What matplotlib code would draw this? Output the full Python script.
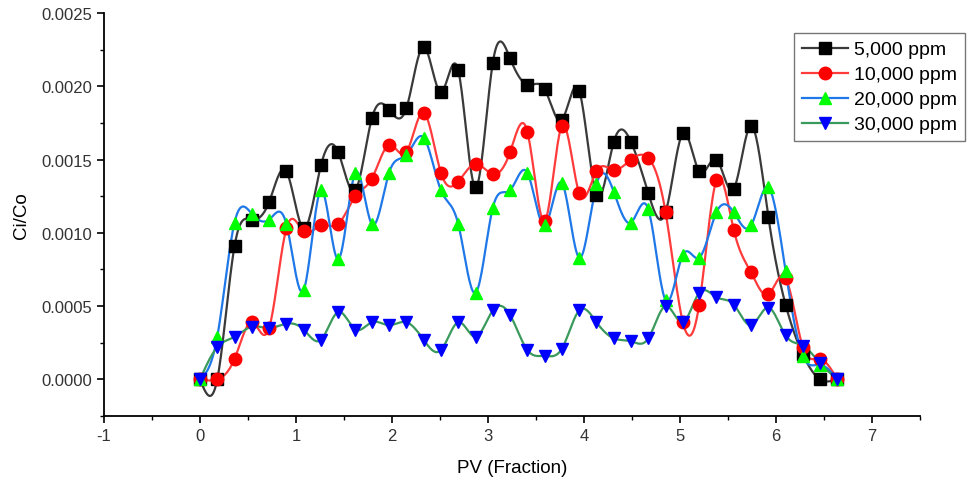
import numpy as np
import matplotlib
matplotlib.use("Agg")
from matplotlib import pyplot as plt
from matplotlib.ticker import MultipleLocator, FormatStrFormatter

plt.rcParams['font.family'] = ['Liberation Sans', 'DejaVu Sans']
plt.rcParams['axes.unicode_minus'] = False

# pore volumes injected
pv = [0.0, 0.18, 0.36, 0.54, 0.72, 0.9, 1.08, 1.26, 1.44, 1.62,
      1.79, 1.97, 2.15, 2.33, 2.51, 2.69, 2.87, 3.05, 3.23, 3.41,
      3.59, 3.77, 3.95, 4.13, 4.31, 4.49, 4.67, 4.85, 5.03, 5.2,
      5.38, 5.56, 5.74, 5.92, 6.1, 6.28, 6.46, 6.64]

c5000 = [0, 0, 0.00091, 0.00109, 0.00121, 0.00142, 0.00103, 0.00146, 0.00155, 0.00129,
         0.00178, 0.00184, 0.00185, 0.00227, 0.00196, 0.00211, 0.00131, 0.00216, 0.00219, 0.00201,
         0.00198, 0.00177, 0.00197, 0.00126, 0.00162, 0.00162, 0.00127, 0.00114, 0.00168, 0.00142,
         0.00150, 0.00130, 0.00173, 0.00111, 0.00051, 0.00017, 0, 0]

c10000 = [0, 0, 0.00014, 0.00039, 0.00035, 0.00103, 0.00101, 0.00105, 0.00106, 0.00125,
          0.00137, 0.00160, 0.00155, 0.00182, 0.00141, 0.00135, 0.00147, 0.00140, 0.00155, 0.00169,
          0.00108, 0.00173, 0.00127, 0.00142, 0.00143, 0.00150, 0.00151, 0.00114, 0.00039, 0.00051,
          0.00136, 0.00102, 0.00073, 0.00058, 0.00069, 0.00022, 0.00014, 0]

c20000 = [0, 0.00029, 0.00107, 0.00113, 0.00109, 0.00106, 0.00061, 0.00129, 0.00082, 0.00141,
          0.00106, 0.00141, 0.00153, 0.00165, 0.00129, 0.00106, 0.00059, 0.00117, 0.00129, 0.00141,
          0.00105, 0.00134, 0.00083, 0.00133, 0.00128, 0.00107, 0.00116, 0.00054, 0.00085, 0.00083,
          0.00114, 0.00114, 0.00105, 0.00131, 0.00074, 0.00016, 0.00010, 0]

c30000 = [0, 0.00022, 0.00029, 0.00036, 0.00035, 0.00038, 0.00034, 0.00027, 0.00046, 0.00034,
          0.00039, 0.00037, 0.00039, 0.00027, 0.00020, 0.00039, 0.00029, 0.00047, 0.00044, 0.00020,
          0.00016, 0.00021, 0.00047, 0.00039, 0.00028, 0.00026, 0.00028, 0.00050, 0.00039, 0.00059,
          0.00056, 0.00051, 0.00037, 0.00049, 0.00030, 0.00023, 0.00011, 0]

labels = ['5,000 ppm', '10,000 ppm', '20,000 ppm', '30,000 ppm']


def spline(x, y, n=20):
    # natural cubic spline through every point
    x = np.asarray(x, float)
    y = np.asarray(y, float)
    m = len(x)
    h = np.diff(x)
    A = np.zeros((m, m))
    b = np.zeros(m)
    A[0, 0] = A[-1, -1] = 1
    for i in range(1, m - 1):
        A[i, i - 1] = h[i - 1]
        A[i, i] = 2 * (h[i - 1] + h[i])
        A[i, i + 1] = h[i]
        b[i] = 6 * ((y[i + 1] - y[i]) / h[i] - (y[i] - y[i - 1]) / h[i - 1])
    M = np.linalg.solve(A, b)
    xs, ys = [], []
    for i in range(m - 1):
        t = np.linspace(x[i], x[i + 1], n, endpoint=False)
        a = x[i + 1] - t
        c = t - x[i]
        s = (M[i] * a**3 + M[i + 1] * c**3) / (6 * h[i]) \
            + (y[i] / h[i] - M[i] * h[i] / 6) * a \
            + (y[i + 1] / h[i] - M[i + 1] * h[i] / 6) * c
        xs.append(t)
        ys.append(s)
    xs.append([x[-1]])
    ys.append([y[-1]])
    return np.concatenate(xs), np.concatenate(ys)


fig = plt.figure(figsize=(9.78, 4.81), dpi=100)
ax = fig.add_axes([0.1063, 0.133, 0.8344, 0.838])

styles = [
    # line colour, marker, marker colour
    ('#3a3a3a', 's', '#000000'),
    ('#ff3b3b', 'o', '#ff0000'),
    ('#1f78e8', '^', '#00ff00'),
    ('#3a9a5c', 'v', '#0000ff'),
]

for vals, lab, (lc, mk, mc) in zip([c5000, c10000, c20000, c30000], labels, styles):
    sx, sy = spline(pv, vals)
    ax.plot(sx, sy, color=lc, lw=1.6, zorder=2)
    ax.plot(pv, vals, ls='none', marker=mk, ms=9, mfc=mc, mec=mc, zorder=3)
    # proxy for the legend entry
    ax.plot([], [], color=lc, lw=1.6, marker=mk, ms=9, mfc=mc, mec=mc, label=lab)

ax.set_xlim(-1, 7.5)
ax.set_ylim(-0.00025, 0.0025)
ax.xaxis.set_major_locator(MultipleLocator(1))
ax.xaxis.set_minor_locator(MultipleLocator(0.5))
ax.yaxis.set_major_locator(MultipleLocator(0.0005))
ax.yaxis.set_minor_locator(MultipleLocator(0.00025))
ax.yaxis.set_major_formatter(FormatStrFormatter('%.4f'))

for s in ['top', 'right']:
    ax.spines[s].set_visible(False)
for s in ['left', 'bottom']:
    ax.spines[s].set_linewidth(1.3)
ax.tick_params(which='major', direction='out', length=5, width=1.2, labelsize=12, colors='black')
ax.tick_params(which='minor', direction='out', length=3, width=1.0)
ax.tick_params(axis='both', labelcolor='#333333')

ax.set_xlabel('PV (Fraction)', fontsize=13.5, labelpad=12)
ax.set_ylabel('Ci/Co', fontsize=13.5, labelpad=8)

leg = ax.legend(loc='upper right', bbox_to_anchor=(1.055, 0.95), fontsize=14,
                frameon=True, fancybox=False, edgecolor='#555555',
                handlelength=2.4, handletextpad=0.3, labelspacing=0.38,
                borderpad=0.4, borderaxespad=0)
leg.get_frame().set_linewidth(1.0)

fig.savefig('out.png', dpi=100)
